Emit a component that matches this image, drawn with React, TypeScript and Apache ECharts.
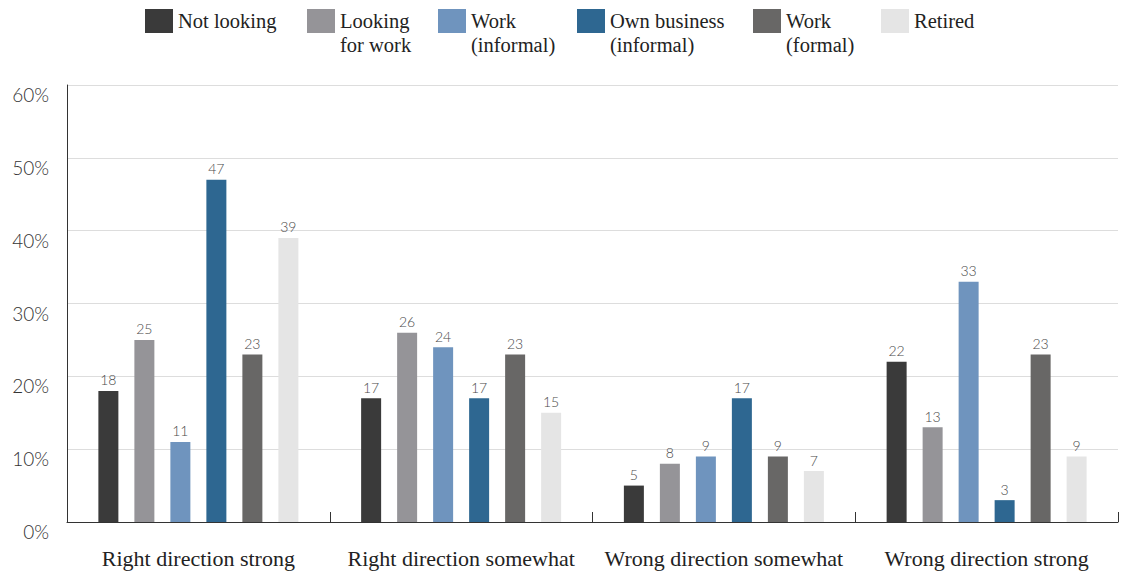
import React, { useEffect, useRef } from "react";
import * as echarts from "echarts";

const categories = [
  "Right direction strong",
  "Right direction somewhat",
  "Wrong direction somewhat",
  "Wrong direction strong",
];
const seriesNames = [
  "Not looking",
  "Looking for work",
  "Work (informal)",
  "Own business (informal)",
  "Work (formal)",
  "Retired",
];
const legendLabels = [
  "Not looking\n ",
  "Looking\nfor work",
  "Work\n(informal)",
  "Own business\n(informal)",
  "Work\n(formal)",
  "Retired\n ",
];
const notLooking = [18, 17, 5, 22];
const lookingForWork = [25, 26, 8, 13];
const workInformal = [11, 24, 9, 33];
const ownBusiness = [47, 17, 17, 3];
const workFormal = [23, 23, 9, 23];
const retired = [39, 15, 7, 9];
const seriesValues = [notLooking, lookingForWork, workInformal, ownBusiness, workFormal, retired];
const colors = ["#3a3a3a", "#959498", "#6f94be", "#2e6791", "#686766", "#e5e5e5"];
const legendLeft = [145, 307, 438, 577, 753, 881];

const SERIF = "'Liberation Serif', 'DejaVu Serif', serif";
const SANS = "Lato, 'Noto Sans', sans-serif";

export default function App() {
  const ref = useRef<HTMLDivElement>(null);
  useEffect(() => {
    if (!ref.current) return;
    const chart = echarts.init(ref.current, undefined, { renderer: "svg" });
    const iconPath = "path://M0,0L28,0L28,24L0,24Z M0,48L0.001,48";
    chart.setOption({
      animation: false,
      legend: seriesNames.map((n, i) => ({
        data: [n],
        left: legendLeft[i],
        top: 9,
        padding: 0,
        itemWidth: 28,
        itemHeight: 48,
        itemGap: 6,
        icon: iconPath,
        formatter: () => legendLabels[i],
        selectedMode: false,
        textStyle: {
          fontFamily: SERIF,
          fontSize: 20.5,
          lineHeight: 24,
          color: "#222",
        },
      })),
      grid: { left: 67, right: 7, top: 85, bottom: 54, containLabel: false },
      xAxis: {
        type: "category",
        data: categories,
        axisLine: { lineStyle: { color: "#333", width: 1 } },
        axisTick: { show: true, inside: true, length: 10, lineStyle: { color: "#333" } },
        axisLabel: {
          interval: 0,
          fontFamily: SERIF,
          fontSize: 22,
          color: "#222",
          margin: 25,
        },
      },
      yAxis: {
        type: "value",
        min: 0,
        max: 60,
        interval: 10,
        axisLine: { show: true, lineStyle: { color: "#333", width: 1 } },
        axisTick: { show: false },
        splitLine: { lineStyle: { color: "#dddddd", width: 1 } },
        axisLabel: {
          formatter: "{value}%",
          fontFamily: SANS,
          fontWeight: 300,
          fontSize: 19,
          color: "#333",
          margin: 18,
          verticalAlign: "top",
        },
      },
      series: seriesNames.map((n, i) => ({
        name: n,
        type: "bar",
        data: seriesValues[i],
        barWidth: 20,
        barGap: "80%",
        itemStyle: { color: colors[i] },
        label: {
          show: true,
          position: "top",
          distance: 4,
          fontFamily: SANS,
          fontWeight: 300,
          fontSize: 14,
          color: "#4a4a4a",
        },
      })),
    });
    return () => chart.dispose();
  }, []);
  return <div ref={ref} style={{ width: 1125, height: 576, position: "absolute", left: 0, top: 0 }} />;
}
